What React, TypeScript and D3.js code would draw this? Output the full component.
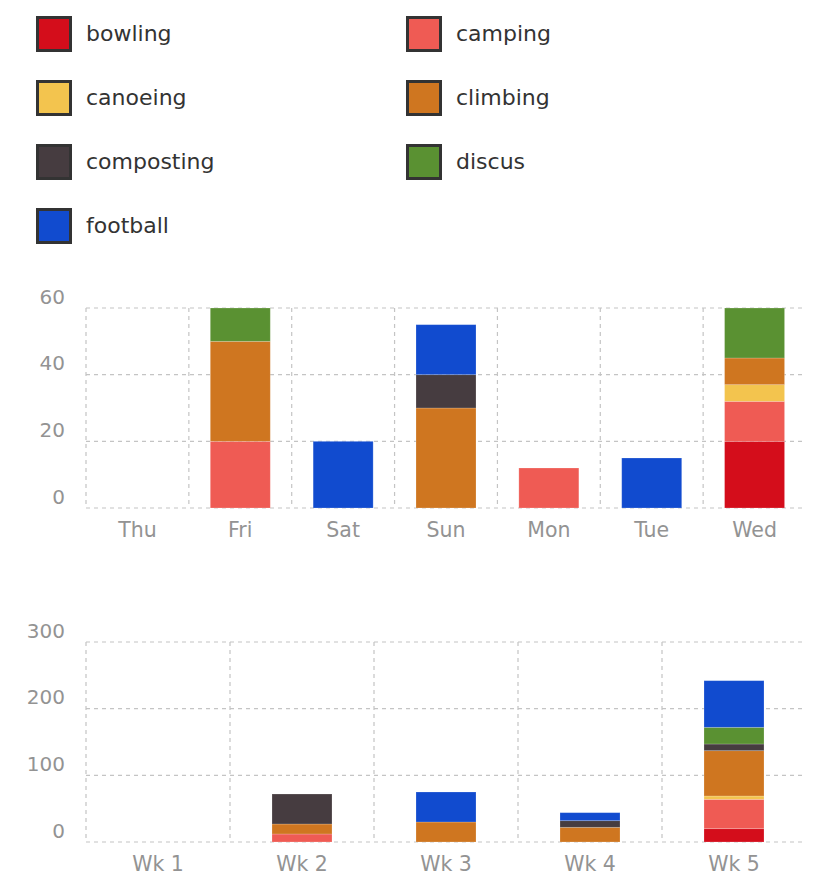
import React from "react";
import * as d3 from "d3";

const activities = ["bowling", "camping", "canoeing", "climbing", "composting", "discus", "football"];
const colors = ["#d40d1b", "#ef5b54", "#f3c44e", "#cf7620", "#463c40", "#5a9132", "#114bcf"];

const days = ["Thu", "Fri", "Sat", "Sun", "Mon", "Tue", "Wed"];
const dayBowling = [0, 0, 0, 0, 0, 0, 20];
const dayCamping = [0, 20, 0, 0, 12, 0, 12];
const dayCanoeing = [0, 0, 0, 0, 0, 0, 5];
const dayClimbing = [0, 30, 0, 30, 0, 0, 8];
const dayComposting = [0, 0, 0, 10, 0, 0, 0];
const dayDiscus = [0, 10, 0, 0, 0, 0, 15];
const dayFootball = [0, 0, 20, 15, 0, 15, 0];
const dayTicks = [0, 20, 40, 60];

const weeks = ["Wk 1", "Wk 2", "Wk 3", "Wk 4", "Wk 5"];
const wkBowling = [0, 0, 0, 0, 20];
const wkCamping = [0, 12, 0, 0, 44];
const wkCanoeing = [0, 0, 0, 0, 5];
const wkClimbing = [0, 15, 30, 22, 68];
const wkComposting = [0, 45, 0, 10, 10];
const wkDiscus = [0, 0, 0, 0, 25];
const wkFootball = [0, 0, 45, 12, 70];
const wkTicks = [0, 100, 200, 300];

const FONT = "DejaVu Sans, Verdana, sans-serif";
const LABEL = "#939393";
const GRID = "#c4c4c4";

function buildRows(cats: string[], series: number[][]) {
  return cats.map((c, i) => {
    const row: any = { cat: c };
    activities.forEach((a, k) => (row[a] = series[k][i]));
    return row;
  });
}

function StackedChart(props: {
  cats: string[];
  series: number[][];
  ticks: number[];
  max: number;
  yTop: number;
  yBottom: number;
  labelY: number;
}) {
  const { cats, series, ticks, max, yTop, yBottom, labelY } = props;
  const x = d3.scaleBand<string>().domain(cats).range([86, 806]).padding(0);
  const y = d3.scaleLinear().domain([0, max]).range([yBottom, yTop]);
  const rows = buildRows(cats, series);
  const stacked = d3.stack<any>().keys(activities)(rows);
  const barW = 60;
  const color = d3.scaleOrdinal<string, string>().domain(activities).range(colors);
  return (
    <g>
      {ticks.map((t) => (
        <line key={"h" + t} x1={86} x2={806} y1={y(t)} y2={y(t)} stroke={GRID} strokeWidth={1.2} strokeDasharray="4,4" />
      ))}
      {cats.map((c) => (
        <line key={"v" + c} x1={x(c)!} x2={x(c)!} y1={yTop} y2={yBottom} stroke={GRID} strokeWidth={1.2} strokeDasharray="4,4" />
      ))}
      {stacked.map((s) => (
        <g key={s.key} fill={color(s.key)}>
          {s.map((d, i) => {
            const h = y(d[0]) - y(d[1]);
            if (h <= 0) return null;
            const cx = x(cats[i])! + x.bandwidth() / 2;
            return (
              <rect
                key={i}
                x={cx - barW / 2}
                y={y(d[1])}
                width={barW}
                height={h}
                stroke="rgba(255,255,255,0.25)"
                strokeWidth={0.8}
              />
            );
          })}
        </g>
      ))}
      {ticks.map((t) => (
        <text key={"yl" + t} x={65} y={y(t) - 10} textAnchor="end" dominantBaseline="middle" fontSize={20} fill={LABEL} fontFamily={FONT}>
          {t}
        </text>
      ))}
      {cats.map((c) => (
        <text key={"xl" + c} x={x(c)! + x.bandwidth() / 2} y={labelY} textAnchor="middle" dominantBaseline="middle" fontSize={20.5} fill={LABEL} fontFamily={FONT}>
          {c}
        </text>
      ))}
    </g>
  );
}

export default function App() {
  const daySeries = [dayBowling, dayCamping, dayCanoeing, dayClimbing, dayComposting, dayDiscus, dayFootball];
  const wkSeries = [wkBowling, wkCamping, wkCanoeing, wkClimbing, wkComposting, wkDiscus, wkFootball];
  return (
    <svg width={820} height={884} style={{ position: "absolute", left: 0, top: 0 }}>
      <rect width={820} height={884} fill="#fff" />
      {activities.map((a, i) => {
        const col = i % 2;
        const row = Math.floor(i / 2);
        const sx = col === 0 ? 37.5 : 407.5;
        const sy = 17.5 + row * 64;
        return (
          <g key={a}>
            <rect x={sx} y={sy} width={33} height={33} fill={colors[i]} stroke="#333" strokeWidth={3} />
            <text x={sx + 48.5} y={sy + 17} dominantBaseline="middle" fontSize={22} fill="#333" fontFamily={FONT}>
              {a}
            </text>
          </g>
        );
      })}
      <StackedChart cats={days} series={daySeries} ticks={dayTicks} max={60} yTop={308} yBottom={508} labelY={531} />
      <StackedChart cats={weeks} series={wkSeries} ticks={wkTicks} max={300} yTop={642} yBottom={842} labelY={865} />
    </svg>
  );
}
